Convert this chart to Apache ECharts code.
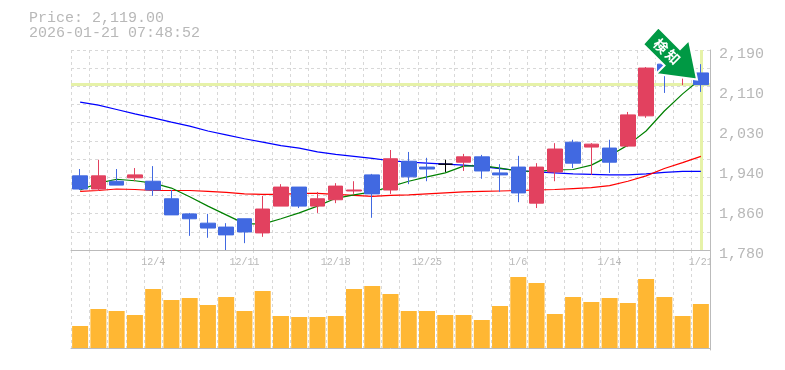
<!DOCTYPE html>
<html><head><meta charset="utf-8">
<style>html,body{margin:0;padding:0;background:#fff}#c{width:785px;height:370px}</style>
<script src="https://cdn.jsdelivr.net/npm/echarts@6/dist/echarts.min.js"></script>
</head><body><div id="c"></div>
<script>
const dates=['11/28','12/1','12/2','12/3','12/4','12/5','12/8','12/9','12/10','12/11','12/12','12/15','12/16','12/17','12/18','12/19','12/22','12/23','12/24','12/25','12/26','12/29','12/30','1/5','1/6','1/7','1/8','1/9','1/13','1/14','1/15','1/16','1/19','1/20','1/21'];
const opens =[1932,1905,1921,1928,1921,1885,1854,1835,1827,1844,1815,1870,1909,1870,1883,1901,1934,1903,1962,1950,1956,1960,1971,1938,1950,1876,1940,2001,1991,1989,1993,2055,2161,2137,2143];
const closes=[1905,1932,1913,1934,1903,1852,1844,1825,1811,1817,1864,1909,1870,1885,1911,1903,1895,1967,1930,1946,1956,1971,1942,1934,1897,1950,1987,1958,1997,1960,2057,2153,2145,2157,2119];
const lows  =[1903,1901,1913,1921,1891,1852,1809,1805,1780,1794,1807,1870,1866,1856,1876,1895,1846,1895,1915,1921,1940,1942,1926,1899,1878,1866,1921,1948,1934,1938,1991,2051,2102,2118,2104];
const highs =[1946,1965,1946,1948,1952,1903,1856,1854,1835,1844,1891,1915,1909,1899,1917,1921,1936,1985,1981,1969,1965,1977,1975,1956,1973,1958,1999,2006,1999,2006,2063,2155,2170,2170,2161];
const maShort=[1903,1917,1925,1922,1917,1907,1889,1870,1852,1834,1833,1844,1856,1870,1886,1893,1899,1910,1921,1930,1938,1952,1953,1948,1942,1941,1944,1945,1954,1973,1995,2024,2065,2100,2131];
const maMid  =[1900,1902,1905,1904,1902,1902,1902,1900,1898,1895,1894,1894,1896,1896,1894,1892,1890,1892,1893,1895,1897,1899,1900,1901,1902,1903,1904,1906,1908,1912,1921,1932,1947,1959,1972];
const maLong =[2083,2077,2068,2059,2051,2042,2034,2024,2016,2008,2001,1994,1989,1981,1976,1972,1968,1963,1960,1958,1956,1954,1951,1947,1943,1940,1938,1936,1935,1934,1934,1936,1939,1941,1941];
const volumes=[22,39,37,33,59,48,50,43,51,37,57,32,31,31,32,59,62,54,37,37,33,33,28,42,71,65,34,51,46,50,45,69,51,32,44];
const priceTicks=[1780,1862,1944,2026,2108,2190];
const lastPrice=2119;
const headerLines=['Price: 2,119.00','2026-01-21 07:48:52'];
const markText=['検','知'];

const MONO='"Liberation Mono","DejaVu Sans Mono",monospace';
const GREY='#b8b8b8', AXIS='#bbbbbb', GRID='#d8d8d8';
const UP='#E2415F', DOWN='#4169E1';
const candleData=dates.map((d,i)=>{
  const v=[opens[i],closes[i],lows[i],highs[i]];
  if(opens[i]===closes[i]) return {value:v,itemStyle:{color:'#000',color0:'#000',borderColor:'#000',borderColor0:'#000',borderColorDoji:'#000'}};
  return v;
});
const chart=echarts.init(document.getElementById('c'),null,{renderer:'canvas'});
const split={show:true,lineStyle:{color:GRID,type:[3,3],width:1}};
chart.setOption({
  animation:false,
  backgroundColor:'#fff',
  title:{text:headerLines.join('\n'),left:24,top:6,textStyle:{fontFamily:MONO,fontSize:15,fontWeight:'normal',color:GREY,lineHeight:15}},
  grid:[{left:71,top:50,width:639,height:200},{left:71,top:250,width:639,height:100},{left:71,top:54,width:639,height:200}],
  xAxis:[
    {type:'category',gridIndex:0,data:dates,boundaryGap:true,
     axisLine:{show:true,lineStyle:{color:AXIS,width:1}},axisTick:{show:false},splitLine:{...split,interval:0},
     axisLabel:{show:true,interval:(i)=>i%5===4,margin:7,fontFamily:MONO,fontSize:10,color:GREY,hideOverlap:false}},
    {type:'category',gridIndex:1,data:dates,boundaryGap:true,
     axisLine:{show:true,lineStyle:{color:AXIS,width:1}},axisTick:{show:false},axisLabel:{show:false},splitLine:{...split,interval:0}},
    {type:'category',gridIndex:2,data:dates,show:false}
  ],
  yAxis:[
    {type:'value',gridIndex:0,position:'right',min:1780,max:2190,scale:true,
     axisLine:{show:true,lineStyle:{color:AXIS,width:1}},axisTick:{show:false},splitLine:{show:false},axisLabel:{show:false}},
    {type:'value',gridIndex:0,position:'left',min:0,max:11,interval:1,axisLine:{show:false},axisTick:{show:false},axisLabel:{show:false},splitLine:split},
    {type:'value',gridIndex:1,position:'right',min:-2,max:98,axisLine:{show:true,lineStyle:{color:AXIS,width:1}},axisTick:{show:false},axisLabel:{show:false},splitLine:{show:false}},
    {type:'value',gridIndex:2,position:'right',min:1780,max:2190,scale:true,
     axisLine:{show:false},axisTick:{show:false},splitLine:{show:false},
     axisLabel:{show:true,customValues:priceTicks,margin:9,fontFamily:MONO,fontSize:15,color:GREY,
       formatter:v=>(Math.round(v/10)*10).toLocaleString('en-US')}}
  ],
  series:[
    {type:'line',name:'guide',xAxisIndex:0,yAxisIndex:0,data:[],z:1,silent:true,
     markLine:{z:1,silent:true,symbol:'none',animation:false,label:{show:false},lineStyle:{color:'#E6F2A8',width:3,type:'solid'},
       data:[{yAxis:lastPrice},{xAxis:dates[dates.length-1]}]}},
    {type:'line',name:'long',xAxisIndex:0,yAxisIndex:0,data:maLong,showSymbol:false,symbol:'none',z:2,lineStyle:{color:'#0000ff',width:1.2}},
    {type:'line',name:'mid',xAxisIndex:0,yAxisIndex:0,data:maMid,showSymbol:false,symbol:'none',z:2,lineStyle:{color:'#ff0000',width:1.2}},
    {type:'line',name:'short',xAxisIndex:0,yAxisIndex:0,data:maShort,showSymbol:false,symbol:'none',z:2,lineStyle:{color:'#008000',width:1.2}},
    {type:'candlestick',xAxisIndex:0,yAxisIndex:0,data:candleData,barWidth:15,z:3,
     itemStyle:{color:UP,color0:DOWN,borderColor:UP,borderColor0:DOWN,borderColorDoji:UP,borderWidth:1}},
    {type:'bar',xAxisIndex:1,yAxisIndex:2,data:volumes,barWidth:16,itemStyle:{color:'#FFB733'},z:2}
  ],
  graphic:[
    {type:'rect',z:100,shape:{x:711,y:254,width:8,height:13},style:{fill:'#fff'}},
    {type:'polygon',z:101,shape:{points:[[658.3,27.3],[680,49],[689,40],[697,79.5],[656,74],[664.5,65.5],[643,44.3]]},
     style:{fill:'#009944',stroke:'#fff',lineWidth:2,lineJoin:'miter'}},
    {type:'text',z:102,x:661,y:46,rotation:-Math.PI/4,style:{text:markText[0],fill:'#fff',font:'bold 14px "Noto Sans CJK JP"',align:'center',verticalAlign:'middle'}},
    {type:'text',z:102,x:673,y:57,rotation:-Math.PI/4,style:{text:markText[1],fill:'#fff',font:'bold 14px "Noto Sans CJK JP"',align:'center',verticalAlign:'middle'}}
  ]
});
</script></body></html>
